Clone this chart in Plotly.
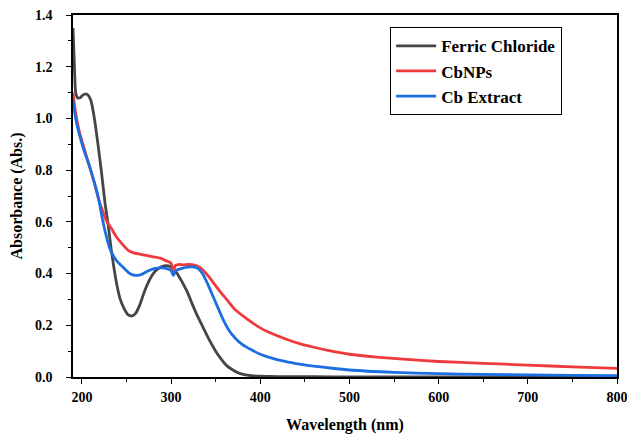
import plotly.graph_objects as go

# UV-Vis absorbance spectra
wl_fc = [190, 191, 192, 193, 195, 198, 201, 204, 207, 210, 214, 218, 222, 226, 229, 233,
         236, 239, 243, 248, 252, 256, 260, 265, 270, 275, 280, 286, 292, 297, 300, 303,
         306, 312, 318, 324, 329, 334, 339, 345, 350, 356, 362, 368, 374, 382, 390, 400,
         410, 430, 460, 500, 600, 700, 800]
abs_fc = [1.35, 1.26, 1.16, 1.10, 1.08, 1.08, 1.09, 1.095, 1.09, 1.07, 1.00, 0.90, 0.79, 0.67,
          0.60, 0.49, 0.42, 0.36, 0.30, 0.26, 0.24, 0.236, 0.245, 0.28, 0.33, 0.37, 0.40,
          0.42, 0.43, 0.43, 0.425, 0.415, 0.405, 0.37, 0.33, 0.28, 0.24, 0.205, 0.17, 0.13,
          0.10, 0.07, 0.045, 0.03, 0.018, 0.009, 0.005, 0.003, 0.002, 0.001, 0.001, 0.0,
          0.0, 0.0, 0.0]

wl_np = [190, 193, 197, 202, 208, 214, 219, 224, 228, 233, 238, 245, 252, 258, 265, 272,
         280, 288, 294, 298, 300, 301.5, 302.5, 303.5, 305, 308, 314, 320, 326, 332, 338,
         343, 348, 355, 363, 372, 385, 400, 415, 430, 445, 460, 480, 500, 530, 560, 600,
         650, 700, 750, 800]
abs_np = [1.10, 1.02, 0.95, 0.89, 0.82, 0.75, 0.685, 0.635, 0.60, 0.575, 0.545, 0.515, 0.49,
          0.48, 0.475, 0.47, 0.465, 0.46, 0.45, 0.445, 0.44, 0.425, 0.412, 0.42, 0.432,
          0.435, 0.434, 0.435, 0.433, 0.425, 0.405, 0.385, 0.362, 0.33, 0.297, 0.26, 0.225,
          0.19, 0.165, 0.145, 0.128, 0.115, 0.1, 0.088, 0.077, 0.069, 0.06, 0.053, 0.046,
          0.039, 0.033]

wl_ex = [190, 193, 197, 202, 209, 215, 219, 223, 227, 231, 235, 240, 246, 252, 257, 262,
         267, 274, 282, 290, 296, 300, 301.5, 302.5, 303.5, 305, 307, 312, 318, 324, 330,
         336, 341, 346, 351, 358, 365, 372, 380, 390, 400, 412, 425, 440, 455, 475, 500,
         550, 600, 650, 700, 750, 800]
abs_ex = [1.07, 1.00, 0.94, 0.88, 0.81, 0.74, 0.685, 0.61, 0.55, 0.50, 0.47, 0.445, 0.425,
          0.405, 0.395, 0.393, 0.397, 0.41, 0.42, 0.422, 0.418, 0.412, 0.40, 0.393, 0.398,
          0.41, 0.415, 0.42, 0.425, 0.426, 0.42, 0.395, 0.36, 0.32, 0.28, 0.225, 0.18, 0.15,
          0.125, 0.105, 0.088, 0.074, 0.062, 0.052, 0.044, 0.036, 0.027, 0.018, 0.013,
          0.01, 0.008, 0.006, 0.005]

names = ["Ferric Chloride", "CbNPs", "Cb Extract"]
colors = ["#454545", "#ee3a3d", "#1c6fe0"]

serif = "Liberation Serif"

fig = go.Figure()
for name, x, y, c in zip(names, [wl_fc, wl_np, wl_ex], [abs_fc, abs_np, abs_ex], colors):
    fig.add_trace(go.Scatter(
        x=x, y=y, name=name, mode="lines",
        line=dict(color=c, width=2.8, shape="spline", smoothing=0.6),
    ))

fig.update_layout(
    width=627, height=434,
    margin=dict(l=73, r=10, t=15, b=57),
    paper_bgcolor="white", plot_bgcolor="white",
    font=dict(family=serif, color="black"),
    showlegend=True,
    legend=dict(
        x=0.583, y=0.966, xanchor="left", yanchor="top",
        bgcolor="white", bordercolor="black", borderwidth=1,
        font=dict(family=serif, size=17, weight="bold", color="black"),
        tracegroupgap=0, itemwidth=40,
    ),
)

fig.update_xaxes(
    range=[190, 800], tickvals=[200, 300, 400, 500, 600, 700, 800],
    ticks="outside", ticklen=5, tickwidth=1.2, tickcolor="black",
    minor=dict(tickvals=[250, 350, 450, 550, 650, 750], ticks="outside", ticklen=3,
               tickcolor="black", tickwidth=1.2),
    showline=True, linecolor="black", linewidth=1.5, mirror=True,
    showgrid=False, zeroline=False, automargin=False, ticklabelstandoff=1,
    ticklabeloverflow="allow",
    tickfont=dict(family=serif, size=14, weight="bold", color="black"),
    title=dict(text="Wavelength (nm)", standoff=17,
               font=dict(family=serif, size=16, weight="bold", color="black")),
)
fig.update_yaxes(
    range=[0, 1.4], tickvals=[0, 0.2, 0.4, 0.6, 0.8, 1.0, 1.2, 1.4], tickformat=".1f",
    ticks="outside", ticklen=5, tickwidth=1.2, tickcolor="black",
    minor=dict(tickvals=[0.1, 0.3, 0.5, 0.7, 0.9, 1.1, 1.3], ticks="outside", ticklen=3,
               tickcolor="black", tickwidth=1.2),
    showline=True, linecolor="black", linewidth=1.5, mirror=True,
    showgrid=False, zeroline=False, automargin=False, ticklabelstandoff=11,
    ticklabeloverflow="allow",
    tickfont=dict(family=serif, size=14, weight="bold", color="black"),
    title=dict(text="Absorbance (Abs.)", standoff=8,
               font=dict(family=serif, size=16, weight="bold", color="black")),
)

fig.write_html("out.html")
